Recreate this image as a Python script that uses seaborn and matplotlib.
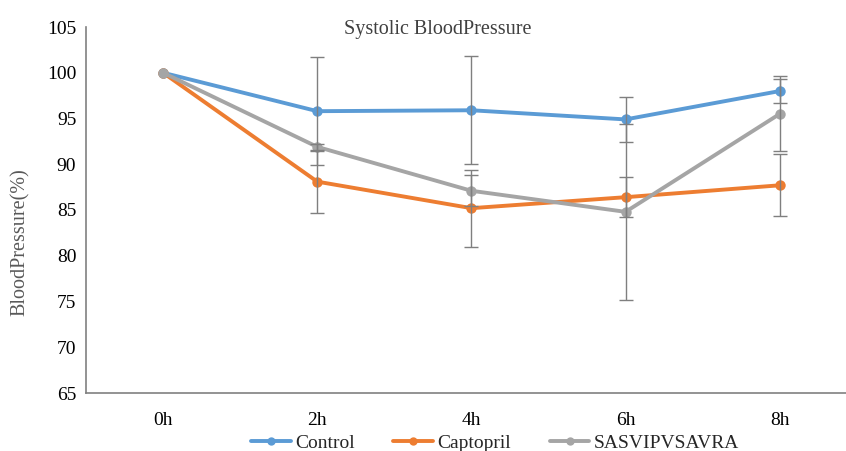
import pandas as pd
import numpy as np
import seaborn as sns
import matplotlib.pyplot as plt

# values
times = ['0h', '2h', '4h', '6h', '8h']
groups = ['Control', 'Captopril', 'SASVIPVSAVRA']
control = [100.0, 95.8, 95.9, 94.9, 98.0]
captopril = [100.0, 88.1, 85.2, 86.4, 87.7]
sasvip = [100.0, 91.9, 87.1, 84.8, 95.5]
control_err = [0, 5.9, 5.9, 2.5, 1.3]
captopril_err = [0, 3.4, 4.2, 2.2, 3.4]
sasvip_err = [0, 0.3, 1.7, 9.6, 4.1]

colors = ['#5B9BD5', '#ED7D31', '#A5A5A5']

# long form for seaborn
df = pd.DataFrame({
    'time': times * 3,
    'value': control + captopril + sasvip,
    'group': np.repeat(groups, len(times)),
})

sns.set_style('white')
plt.rcParams['font.family'] = ['Liberation Serif', 'DejaVu Serif']

fig = plt.figure(figsize=(8.46, 4.51), dpi=100)
ax = fig.add_axes([86/846, 58/451, 760/846, 366/451])

sns.lineplot(data=df, x='time', y='value', hue='group', hue_order=groups,
             palette=colors, marker='o', markersize=7.5, markeredgewidth=0,
             linewidth=2.8, ax=ax, sort=False)

# error bars per series (skip points with no error)
for vals, errs in zip([control, captopril, sasvip], [control_err, captopril_err, sasvip_err]):
    xs = [t for t, e in zip(times, errs) if e > 0]
    ys = [v for v, e in zip(vals, errs) if e > 0]
    es = [e for e in errs if e > 0]
    ax.errorbar(xs, ys, yerr=es, fmt='none', ecolor='#7F7F7F',
                elinewidth=1.0, capsize=5, capthick=1.0, zorder=4)

ax.set_xlim(-0.5, 4.43)
ax.set_ylim(65, 105)
ax.set_yticks(range(65, 106, 5))
ax.set_xlabel('')
ax.set_ylabel('BloodPressure(%)', fontsize=14.5, color='#595959')
ax.yaxis.set_label_coords(-0.074, 0.413)
ax.tick_params(axis='y', direction='in', length=5, color='#808080', labelsize=14, pad=7)
ax.tick_params(axis='x', length=0, labelsize=14, pad=14)
for lbl in ax.get_xticklabels() + ax.get_yticklabels():
    lbl.set_color('#000000')

sns.despine(ax=ax)
for s in ['left', 'bottom']:
    ax.spines[s].set_color('#808080')
    ax.spines[s].set_linewidth(1.2)

ax.set_title('Systolic BloodPressure', fontsize=14.5, color='#404040',
             x=0.4625, y=0.98, pad=0)

ax.legend_.remove()
handles, labels = ax.get_legend_handles_labels()
fig.legend(handles, labels, loc='lower center', bbox_to_anchor=(0.585, -0.04),
           ncol=3, frameon=False, fontsize=14, handlelength=2.05,
           columnspacing=2.0, handletextpad=0.2, markerscale=0.8)

plt.savefig('out.png', dpi=100)
